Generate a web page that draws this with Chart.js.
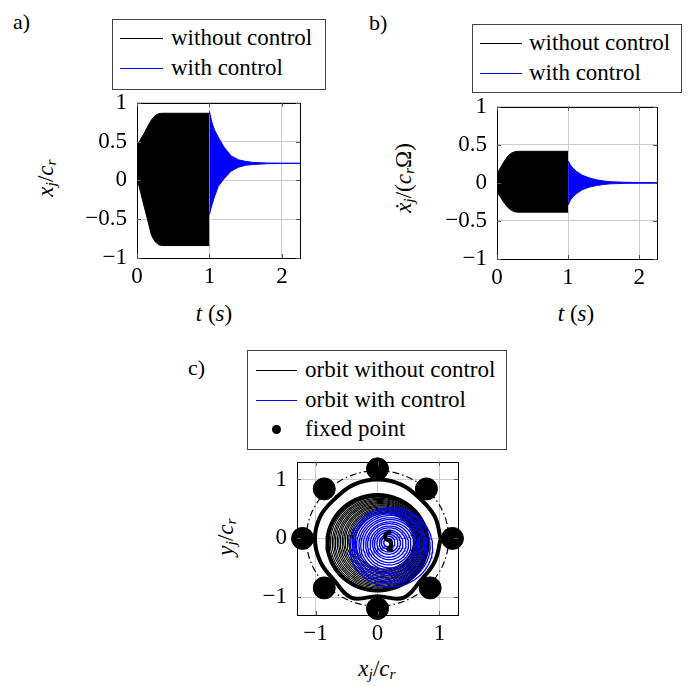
<!DOCTYPE html>
<html>
<head>
<meta charset="utf-8">
<script src="https://cdn.jsdelivr.net/npm/chart.js@4.4.1/dist/chart.umd.min.js"></script>
<style>
  body { margin: 0; background: #fff; width: 692px; height: 686px; position: relative; overflow: hidden;
         font-family: "Liberation Serif", serif; color: #000; }
  canvas { position: absolute; }
  .lab { position: absolute; font-size: 22px; line-height: 22px; }
  .legend { position: absolute; border: 1px solid #444; background: #fff; box-sizing: border-box; }
  .row { position: absolute; height: 30px; line-height: 30px; font-size: 23px; white-space: nowrap; }
  .sw { position: absolute; height: 1px; background: #000; }
  .dot { position: absolute; width: 9px; height: 9px; border-radius: 50%; background: #000; }
  .title { position: absolute; font-size: 23px; line-height: 23px; white-space: nowrap; transform: translate(-50%, -50%); }
  .title.rot { transform: translate(-50%, -50%) rotate(-90deg); }
  sub { font-size: 68%; vertical-align: -0.25em; line-height: 0; }
</style>
</head>
<body>

<div class="lab" style="left:13px; top:11px;">a)</div>
<div class="lab" style="left:369px; top:12px;">b)</div>
<div class="lab" style="left:188px; top:357px;">c)</div>

<!-- legend a -->
<div class="legend" style="left:112px; top:19px; width:214px; height:71px;"></div>
<div class="sw" style="left:120px; top:38px; width:43px;"></div>
<div class="row" style="left:171px; top:23px;">without control</div>
<div class="sw" style="left:120px; top:68px; width:43px; background:#0000ff;"></div>
<div class="row" style="left:171px; top:53px;">with control</div>

<!-- legend b -->
<div class="legend" style="left:472px; top:24px; width:210px; height:69px;"></div>
<div class="sw" style="left:480px; top:43px; width:42px;"></div>
<div class="row" style="left:529px; top:28px;">without control</div>
<div class="sw" style="left:480px; top:73px; width:42px; background:#0000ff;"></div>
<div class="row" style="left:529px; top:58px;">with control</div>

<!-- legend c -->
<div class="legend" style="left:247px; top:350px; width:260px; height:100px;"></div>
<div class="sw" style="left:256px; top:370px; width:41px;"></div>
<div class="row" style="left:305px; top:355px;">orbit without control</div>
<div class="sw" style="left:256px; top:400px; width:41px; background:#0000ff;"></div>
<div class="row" style="left:305px; top:385px;">orbit with control</div>
<div class="dot" style="left:272px; top:425px;"></div>
<div class="row" style="left:305px; top:414px;">fixed point</div>

<!-- axis titles -->
<div class="title rot" style="left:45px; top:178px;"><i>x</i><sub><i>j</i></sub>/<i>c</i><sub><i>r</i></sub></div>
<div class="title" style="left:214px; top:313px;"><i>t</i> (<i>s</i>)</div>
<div class="title rot" style="left:403px; top:178px;"><i>x&#775;</i><sub><i>j</i></sub>/(<i>c</i><sub><i>r</i></sub>&#937;)</div>
<div class="title" style="left:576px; top:313px;"><i>t</i> (<i>s</i>)</div>
<div class="title rot" style="left:225px; top:537px;"><i>y</i><sub><i>j</i></sub>/<i>c</i><sub><i>r</i></sub></div>
<div class="title" style="left:377px; top:668px;"><i>x</i><sub><i>j</i></sub>/<i>c</i><sub><i>r</i></sub></div>

<canvas id="chartA" style="left:57px; top:79px;" width="263" height="219"></canvas>
<canvas id="chartB" style="left:417px; top:83px;" width="260" height="216"></canvas>
<canvas id="chartC" style="left:217px; top:438px;" width="261" height="217"></canvas>

<script>
// ---- a) displacement envelope ----
const tFree = [0, 0.05, 0.1, 0.15, 0.2, 0.25, 0.3, 0.35, 1.0];
const xUpperFree = [0.44, 0.53, 0.61, 0.70, 0.78, 0.835, 0.86, 0.865, 0.865];
const xLowerFree = [0.03, -0.155, -0.34, -0.52, -0.71, -0.79, -0.83, -0.84, -0.84];
const tCtrl = [1.0, 1.03, 1.07, 1.12, 1.2, 1.3, 1.4, 1.5, 1.6, 1.8, 2.25];
const xUpperCtrl = [0.89, 0.76, 0.65, 0.56, 0.43, 0.315, 0.265, 0.245, 0.232, 0.224, 0.22];
const xLowerCtrl = [-0.44, -0.33, -0.21, -0.08, 0.02, 0.12, 0.17, 0.195, 0.205, 0.215, 0.22];

// ---- b) velocity envelope ----
const tFreeB = [0, 0.05, 0.1, 0.15, 0.2, 0.25, 0.3, 1.0];
const vUpperFree = [0.12, 0.20, 0.28, 0.35, 0.39, 0.41, 0.415, 0.415];
const vLowerFree = [-0.12, -0.19, -0.26, -0.32, -0.36, -0.38, -0.385, -0.385];
const vUpperCtrl = [0.29, 0.24, 0.19, 0.15, 0.10, 0.065, 0.04, 0.025, 0.015, 0.008, 0.003];
const vLowerCtrl = [-0.29, -0.23, -0.18, -0.14, -0.09, -0.055, -0.035, -0.02, -0.012, -0.006, -0.003];

const tTicks = [0, 1, 2];
const yTicksAB = [-1, -0.5, 0, 0.5, 1];

// ---- c) orbit ----
const orbitTicks = [-1, 0, 1];
const clearanceR = 1.15;
const boundaryAngle = [0, 22.5, 45, 67.5, 90, 112.5, 135, 157.5, 180, 202.5, 225, 247.5, 270, 292.5, 315, 337.5, 360];
const boundaryR = [1.02, 1.0, 0.97, 1.0, 1.01, 1.0, 0.97, 1.0, 1.01, 1.0, 0.99, 1.08, 0.97, 1.08, 0.99, 1.0, 1.02];
const fixedX = [0, 0.79, 1.21, 0.85, 0, -0.86, -1.21, -0.86];
const fixedY = [1.18, 0.84, 0, -0.84, -1.19, -0.84, 0, 0.84];
const blackR  = [0.81, 0.79, 0.77, 0.75, 0.73, 0.71, 0.69, 0.67, 0.65, 0.63, 0.61, 0.59, 0.57, 0.55, 0.53, 0.51, 0.49, 0.47];
const blackCx = [0.00, 0.005, 0.01, 0.02, 0.025, 0.03, 0.04, 0.045, 0.05, 0.06, 0.065, 0.07, 0.08, 0.085, 0.09, 0.10, 0.105, 0.11];
const blackCy = [-0.075, -0.073, -0.07, -0.07, -0.068, -0.066, -0.065, -0.063, -0.06, -0.06, -0.058, -0.056, -0.055, -0.053, -0.05, -0.05, -0.05, -0.05];
const blueR  = [0.67, 0.63, 0.59, 0.55, 0.51, 0.47, 0.43, 0.39, 0.35, 0.31, 0.27, 0.23, 0.19, 0.15, 0.11, 0.07];
const blueCx = [0.22, 0.22, 0.21, 0.21, 0.21, 0.20, 0.20, 0.20, 0.19, 0.19, 0.19, 0.18, 0.18, 0.18, 0.17, 0.17];
const blueCy = [-0.15, -0.14, -0.14, -0.13, -0.12, -0.12, -0.11, -0.11, -0.10, -0.10, -0.09, -0.09, -0.08, -0.08, -0.07, -0.07];
const centreX = [0.22, 0.14, 0.13, 0.20, 0.22, 0.17, 0.25];
const centreY = [0.12, 0.08, 0.00, -0.05, -0.12, -0.18, -0.20];

const FONT = { family: "'Liberation Serif', serif", size: 23 };

function tickLabel(v) { return v < 0 ? '\u2212' + Math.abs(v) : String(v); }

function pts(xs, ys) { return xs.map((x, i) => ({ x: x, y: ys[i] })); }

// closed outline of a ring (centre + radius)
function ring(cx, cy, r) {
  const out = [];
  for (let a = 0; a <= 360; a += 4) {
    const rad = a * Math.PI / 180;
    out.push({ x: cx + r * Math.cos(rad), y: cy + r * Math.sin(rad) });
  }
  return out;
}

function axis(min, max, ticks, isX) {
  return {
    type: 'linear', min: min, max: max,
    afterBuildTicks: s => { s.ticks = ticks.map(v => ({ value: v })); },
    afterFit: s => { if (isX) s.height = 40; else s.width = 80; },
    grid: { color: '#cccccc', lineWidth: 1, drawTicks: false },
    border: { display: false },
    ticks: { color: '#000', padding: isX ? 5 : 10, font: FONT, callback: tickLabel, autoSkip: false, maxRotation: 0 }
  };
}

// box frame and inward tick marks like pgfplots
const framePlugin = {
  id: 'frame',
  beforeDatasetsDraw(chart) {
    const a = chart.chartArea, c = chart.ctx;
    c.save();
    c.strokeStyle = '#000';
    c.lineWidth = 1;
    c.strokeRect(Math.round(a.left) + 0.5, Math.round(a.top) + 0.5,
                 Math.round(a.right - a.left), Math.round(a.bottom - a.top));
    c.restore();
  },
  afterDraw(chart) {
    const a = chart.chartArea, c = chart.ctx;
    c.save();
    c.strokeStyle = '#555';
    c.lineWidth = 1;
    c.beginPath();
    chart.scales.x.ticks.forEach(t => {
      const px = Math.round(chart.scales.x.getPixelForValue(t.value)) + 0.5;
      c.moveTo(px, a.bottom); c.lineTo(px, a.bottom - 4);
      c.moveTo(px, a.top); c.lineTo(px, a.top + 4);
    });
    chart.scales.y.ticks.forEach(t => {
      const py = Math.round(chart.scales.y.getPixelForValue(t.value)) + 0.5;
      c.moveTo(a.left, py); c.lineTo(a.left + 4, py);
      c.moveTo(a.right, py); c.lineTo(a.right - 4, py);
    });
    c.stroke();
    c.restore();
  }
};

const baseOptions = {
  responsive: false,
  animation: false,
  layout: { padding: { top: 16, right: 20, left: 0, bottom: 0 } },
  plugins: { legend: { display: false }, tooltip: { enabled: false } },
  elements: { point: { radius: 0 }, line: { tension: 0 } }
};

function envelopeSets(tF, upF, loF, tC, upC, loC) {
  return [
    { data: pts(tF, upF), borderColor: '#000', backgroundColor: '#000', borderWidth: 1, fill: '+1' },
    { data: pts(tF, loF), borderColor: '#000', borderWidth: 1, fill: false },
    { data: pts(tC, upC), borderColor: '#0000ff', backgroundColor: '#0000ff', borderWidth: 1, fill: '+1' },
    { data: pts(tC, loC), borderColor: '#0000ff', borderWidth: 1, fill: false }
  ];
}

new Chart(document.getElementById('chartA'), {
  type: 'line',
  data: { datasets: envelopeSets(tFree, xUpperFree, xLowerFree, tCtrl, xUpperCtrl, xLowerCtrl) },
  options: Object.assign({}, baseOptions, {
    scales: { x: axis(0, 2.25, tTicks, true), y: axis(-1, 1, yTicksAB, false) }
  }),
  plugins: [framePlugin]
});

new Chart(document.getElementById('chartB'), {
  type: 'line',
  data: { datasets: envelopeSets(tFreeB, vUpperFree, vLowerFree, tCtrl, vUpperCtrl, vLowerCtrl) },
  options: Object.assign({}, baseOptions, {
    scales: { x: axis(0, 2.25, tTicks, true), y: axis(-1, 1, yTicksAB, false) }
  }),
  plugins: [framePlugin]
});

// orbit layers, listed bottom to top
const layers = [];
layers.push({ data: ring(0, 0, clearanceR), borderColor: '#000', borderWidth: 1.2, borderDash: [7, 3, 1.5, 3] });
layers.push({ data: pts(boundaryAngle.map((a, i) => boundaryR[i] * Math.cos(a * Math.PI / 180)),
                        boundaryAngle.map((a, i) => boundaryR[i] * Math.sin(a * Math.PI / 180) - 0.01)),
              borderColor: '#000', borderWidth: 4, tension: 0.4 });
blackR.forEach((r, i) => layers.push({ data: ring(blackCx[i], blackCy[i], r), borderColor: '#000', borderWidth: i === 0 ? 4 : 1.1 }));
blueR.forEach((r, i) => layers.push({ data: ring(blueCx[i], blueCy[i], r), borderColor: '#0000ff', borderWidth: 1.3 }));
layers.push({ data: pts(centreX, centreY), borderColor: '#000', borderWidth: 4, tension: 0.4 });
layers.push({ data: pts(fixedX, fixedY), showLine: false, pointRadius: 11, pointBackgroundColor: '#000',
              pointBorderColor: '#000', clip: false });
layers.forEach((d, i) => {
  d.order = layers.length - i;
  if (d.showLine === undefined) d.showLine = true;
  if (d.pointRadius === undefined) d.pointRadius = 0;
  d.fill = false;
});

new Chart(document.getElementById('chartC'), {
  type: 'scatter',
  data: { datasets: layers },
  options: Object.assign({}, baseOptions, {
    scales: { x: axis(-1.3, 1.3, orbitTicks, true), y: axis(-1.3, 1.3, orbitTicks, false) }
  }),
  plugins: [framePlugin]
});
</script>
</body>
</html>
